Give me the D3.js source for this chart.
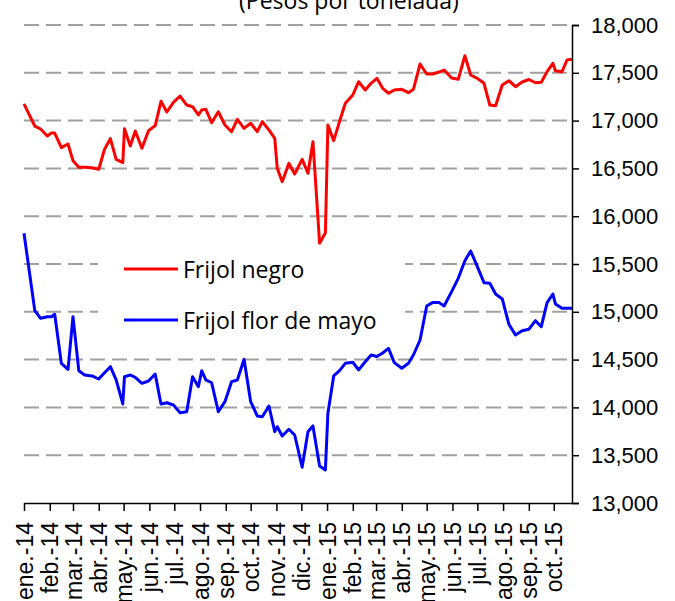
<!DOCTYPE html>
<html>
<head>
<meta charset="utf-8">
<script src="https://cdn.jsdelivr.net/npm/d3@7"></script>
<style>
  body { margin: 0; background: #fff; }
  svg { font-family: 'Open Sans', sans-serif; }
</style>
</head>
<body>
<svg width="675" height="601"></svg>
<script>
var fechas = ['2014-01-01','2014-01-14','2014-01-21','2014-01-29','2014-02-03','2014-02-07','2014-02-15','2014-02-23',
    '2014-03-01','2014-03-08','2014-03-15','2014-03-24','2014-04-01','2014-04-08','2014-04-15','2014-04-22',
    '2014-04-30','2014-05-02','2014-05-09','2014-05-15','2014-05-23','2014-05-31','2014-06-08','2014-06-15',
    '2014-06-22','2014-06-30','2014-07-08','2014-07-16','2014-07-23','2014-07-30','2014-08-03','2014-08-08',
    '2014-08-15','2014-08-23','2014-08-31','2014-09-08','2014-09-15','2014-09-23','2014-10-01','2014-10-09',
    '2014-10-15','2014-10-23','2014-10-30','2014-11-02','2014-11-08','2014-11-16','2014-11-23','2014-12-02',
    '2014-12-09','2014-12-15','2014-12-23','2014-12-30','2015-01-02','2015-01-09','2015-01-16','2015-01-23',
    '2015-02-01','2015-02-08','2015-02-16','2015-02-23','2015-03-02','2015-03-09','2015-03-16','2015-03-23',
    '2015-04-01','2015-04-09','2015-04-15','2015-04-23','2015-05-01','2015-05-08','2015-05-16','2015-05-22',
    '2015-05-31','2015-06-08','2015-06-16','2015-06-23','2015-07-01','2015-07-09','2015-07-16','2015-07-23',
    '2015-07-31','2015-08-08','2015-08-16','2015-08-24','2015-09-01','2015-09-09','2015-09-16','2015-09-23',
    '2015-09-30','2015-10-03','2015-10-11','2015-10-17','2015-10-23'];

var frijolNegro = [17174,16943,16912,16839,16870,16870,16717,16755,
    16581,16512,16512,16507,16491,16700,16811,16595,
    16560,16915,16734,16891,16710,16894,16947,17202,
    17090,17191,17257,17163,17145,17059,17111,17118,
    16978,17093,16954,16884,17014,16919,16972,16884,
    16989,16902,16815,16501,16361,16553,16441,16595,
    16449,16779,15717,15827,16954,16790,16989,17181,
    17268,17407,17320,17390,17442,17338,17286,17320,
    17327,17292,17327,17592,17487,17487,17508,17529,
    17446,17432,17679,17477,17442,17390,17163,17156,
    17372,17417,17355,17404,17430,17396,17401,17512,
    17599,17522,17512,17634,17641];

var frijolFlorDeMayo = [15821,15012,14932,14949,14949,14974,14461,14398,
    14949,14384,14339,14329,14297,14363,14426,14287,
    14036,14321,14339,14315,14252,14276,14349,14036,
    14049,14025,13945,13955,14321,14216,14384,14287,
    14258,13955,14060,14269,14287,14503,14060,13910,
    13903,14015,13746,13798,13701,13771,13711,13374,
    13746,13806,13387,13345,13938,14329,14384,14461,
    14472,14392,14478,14548,14533,14569,14618,14468,
    14409,14462,14548,14705,15061,15096,15096,15061,
    15211,15350,15535,15636,15472,15305,15298,15186,
    15134,14869,14757,14802,14817,14907,14844,15096,
    15186,15082,15037,15037,15037];

var meses = ['ene.','feb.','mar.','abr.','may.','jun.','jul.','ago.','sep.','oct.','nov.','dic.'];
var ticksY = [13000,13500,14000,14500,15000,15500,16000,16500,17000,17500,18000];
var series = [
    {nombre: 'Frijol negro', valores: frijolNegro, color: '#ff0000'},
    {nombre: 'Frijol flor de mayo', valores: frijolFlorDeMayo, color: '#0000ff'}
];

var parseFecha = d3.utcParse('%Y-%m-%d');
var fechasD = fechas.map(parseFecha);

var svg = d3.select('svg');

var scaleX = d3.scaleUtc().domain([parseFecha('2014-01-01'), parseFecha('2015-10-23')]).range([24, 572]);
var scaleY = d3.scaleLinear().domain([13000, 18000]).range([503, 25]);

// titulo (cortado arriba, como en el original)
svg.append('text')
    .text('(Pesos por tonelada)')
    .attr('x', 349)
    .attr('y', 9)
    .attr('text-anchor', 'middle')
    .attr('font-size', '23px')
    .attr('fill', '#000');

// lineas de cuadricula
svg.append('g').selectAll('line')
    .data(ticksY.slice(1))
    .enter()
    .append('line')
    .attr('x1', 24)
    .attr('x2', 572)
    .attr('y1', function(d){ return scaleY(d); })
    .attr('y2', function(d){ return scaleY(d); })
    .attr('stroke', '#a0a0a0')
    .attr('stroke-width', 2)
    .attr('stroke-dasharray', '15,7');

// eje x
var mesesTicks = d3.utcMonth.range(parseFecha('2014-01-01'), parseFecha('2015-10-02'));
var ejeX = svg.append('g')
    .attr('transform', 'translate(0,503)')
    .call(d3.axisBottom(scaleX)
        .tickValues(mesesTicks)
        .tickSize(8)
        .tickSizeOuter(0)
        .tickFormat(function(d){
            return meses[d.getUTCMonth()] + '-' + String(d.getUTCFullYear()).slice(2);
        }));

ejeX.selectAll('text')
    .attr('transform', 'rotate(-90)')
    .attr('x', -19)
    .attr('y', 0)
    .attr('dy', '0.35em')
    .attr('text-anchor', 'end')
    .attr('font-size', '23px')
    .attr('fill', '#000');

// eje y a la derecha
var ejeY = svg.append('g')
    .attr('transform', 'translate(572,0)')
    .call(d3.axisRight(scaleY)
        .tickValues(ticksY)
        .tickSize(7)
        .tickPadding(12)
        .tickFormat(d3.format(',')));

ejeY.selectAll('text')
    .attr('font-size', '22px')
    .attr('fill', '#000');

svg.selectAll('.domain, .tick line')
    .attr('stroke', '#000')
    .attr('stroke-width', 1.5);

// leyenda
svg.append('rect')
    .attr('x', 98)
    .attr('y', 240)
    .attr('width', 307)
    .attr('height', 100)
    .attr('fill', '#fff');

var leyenda = svg.append('g').selectAll('g')
    .data(series)
    .enter()
    .append('g')
    .attr('transform', function(d, i){ return 'translate(0,' + (269 + i * 51) + ')'; });

leyenda.append('line')
    .attr('x1', 124)
    .attr('x2', 178)
    .attr('stroke', function(d){ return d.color; })
    .attr('stroke-width', 3);

leyenda.append('text')
    .text(function(d){ return d.nombre; })
    .attr('x', 183)
    .attr('y', 9)
    .attr('font-size', '23px')
    .attr('fill', '#000');

// lineas de datos
var linea = d3.line()
    .x(function(d, i){ return scaleX(fechasD[i]); })
    .y(function(d){ return scaleY(d); });

svg.append('g').selectAll('path')
    .data(series)
    .enter()
    .append('path')
    .attr('d', function(d){ return linea(d.valores); })
    .attr('fill', 'none')
    .attr('stroke', function(d){ return d.color; })
    .attr('stroke-width', 3)
    .attr('stroke-linejoin', 'round');
</script>
</body>
</html>
